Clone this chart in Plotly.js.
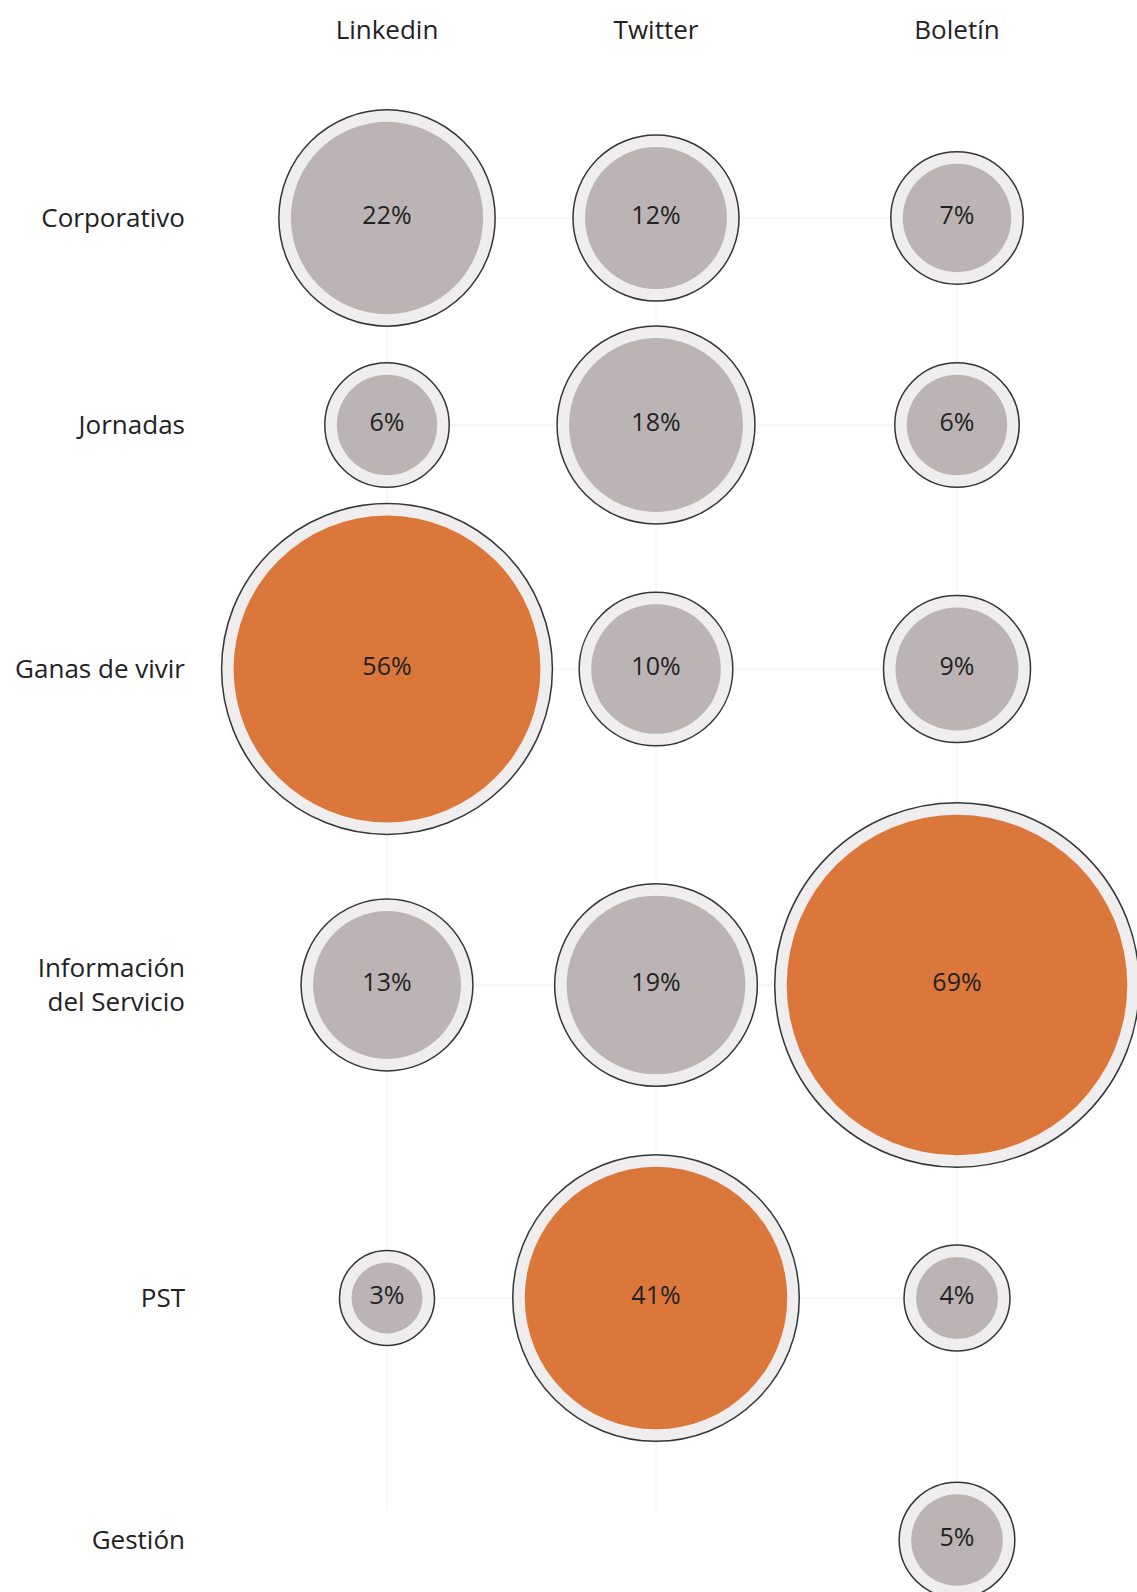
<!DOCTYPE html>
<html>
<head>
<meta charset="utf-8">
<script src="https://cdn.plot.ly/plotly-3.0.1.min.js"></script>
<style>html,body{margin:0;padding:0;background:#fff;}#chart{width:1137px;height:1592px;}</style>
</head>
<body>
<div id="chart"></div>
<script>
// ---- data ----
const columns = ['Linkedin', 'Twitter', 'Boletín'];
const rows = ['Corporativo', 'Jornadas', 'Ganas de vivir', 'Información<br>del Servicio', 'PST', 'Gestión'];
const linkedin = [22, 6, 56, 13, 3, null];
const twitter = [12, 18, 10, 19, 41, null];
const boletin = [7, 6, 9, 69, 4, 5];

// ---- layout (positions of the category slots, in axis units) ----
const colX = [387, 656, 957];
const rowY = [218, 425, 669, 985, 1298, 1540];
const sizeK = 41;      // diameter per sqrt(percent)
const ringW = 24;      // extra diameter for light ring
const greyFill = '#bcb4b4';
const hiFill = '#dc773c';
const ringFill = '#efeded';
const font = '"Open Sans", sans-serif';

const series = [linkedin, twitter, boletin];
const ox = [], oy = [], os = [], ix = [], iy = [], is = [], ic = [], it = [];
series.forEach((vals, c) => {
  const mx = Math.max(...vals.filter(v => v != null));
  vals.forEach((v, r) => {
    if (v == null) return;
    const d = sizeK * Math.sqrt(v);
    ox.push(colX[c]); oy.push(rowY[r]); os.push(d + ringW);
    ix.push(colX[c]); iy.push(rowY[r]); is.push(d);
    ic.push(v === mx ? hiFill : greyFill);
    it.push(v + '%');
  });
});

// faint guide lines
const gx = [], gy = [];
rows.forEach((_, r) => {
  const cs = series.map((s, c) => s[r] != null ? c : -1).filter(c => c >= 0);
  if (cs.length > 1) { gx.push(colX[cs[0]], colX[cs[cs.length - 1]], null); gy.push(rowY[r], rowY[r], null); }
});
columns.forEach((_, c) => {
  gx.push(colX[c], colX[c], null); gy.push(rowY[0], rowY[rowY.length - 1] - 30, null);
});

const traces = [
  {x: gx, y: gy, mode: 'lines', line: {color: '#f0f0f0', width: 1}, hoverinfo: 'skip', cliponaxis: false},
  {x: ox, y: oy, mode: 'markers', marker: {size: os, sizemode: 'diameter', color: ringFill, opacity: 1,
    line: {color: '#353535', width: 1.5}}, hoverinfo: 'skip', cliponaxis: false},
  {x: ix, y: iy, mode: 'markers+text', text: it, textposition: 'middle center',
    textfont: {family: font, size: 25, color: '#222'},
    marker: {size: is, sizemode: 'diameter', color: ic, opacity: 1, line: {width: 0}}, hoverinfo: 'skip', cliponaxis: false}
];

const layout = {
  width: 1137, height: 1592,
  margin: {l: 200, r: 0, t: 60, b: 0},
  paper_bgcolor: '#fff', plot_bgcolor: '#fff',
  showlegend: false,
  font: {family: font, color: '#222'},
  xaxis: {range: [200, 1137], side: 'top', tickvals: colX, ticktext: columns, ticks: '',
    showgrid: false, zeroline: false, showline: false, tickfont: {family: font, size: 26, color: '#222'},
    ticklabelstandoff: 15, fixedrange: true},
  yaxis: {range: [1592, 60], tickvals: rowY, ticktext: rows, ticks: '',
    showgrid: false, zeroline: false, showline: false, tickfont: {family: font, size: 26, color: '#222'},
    ticklabelstandoff: 14, fixedrange: true},
  hovermode: false
};

Plotly.newPlot('chart', traces, layout, {displayModeBar: false, staticPlot: true});
</script>
</body>
</html>
